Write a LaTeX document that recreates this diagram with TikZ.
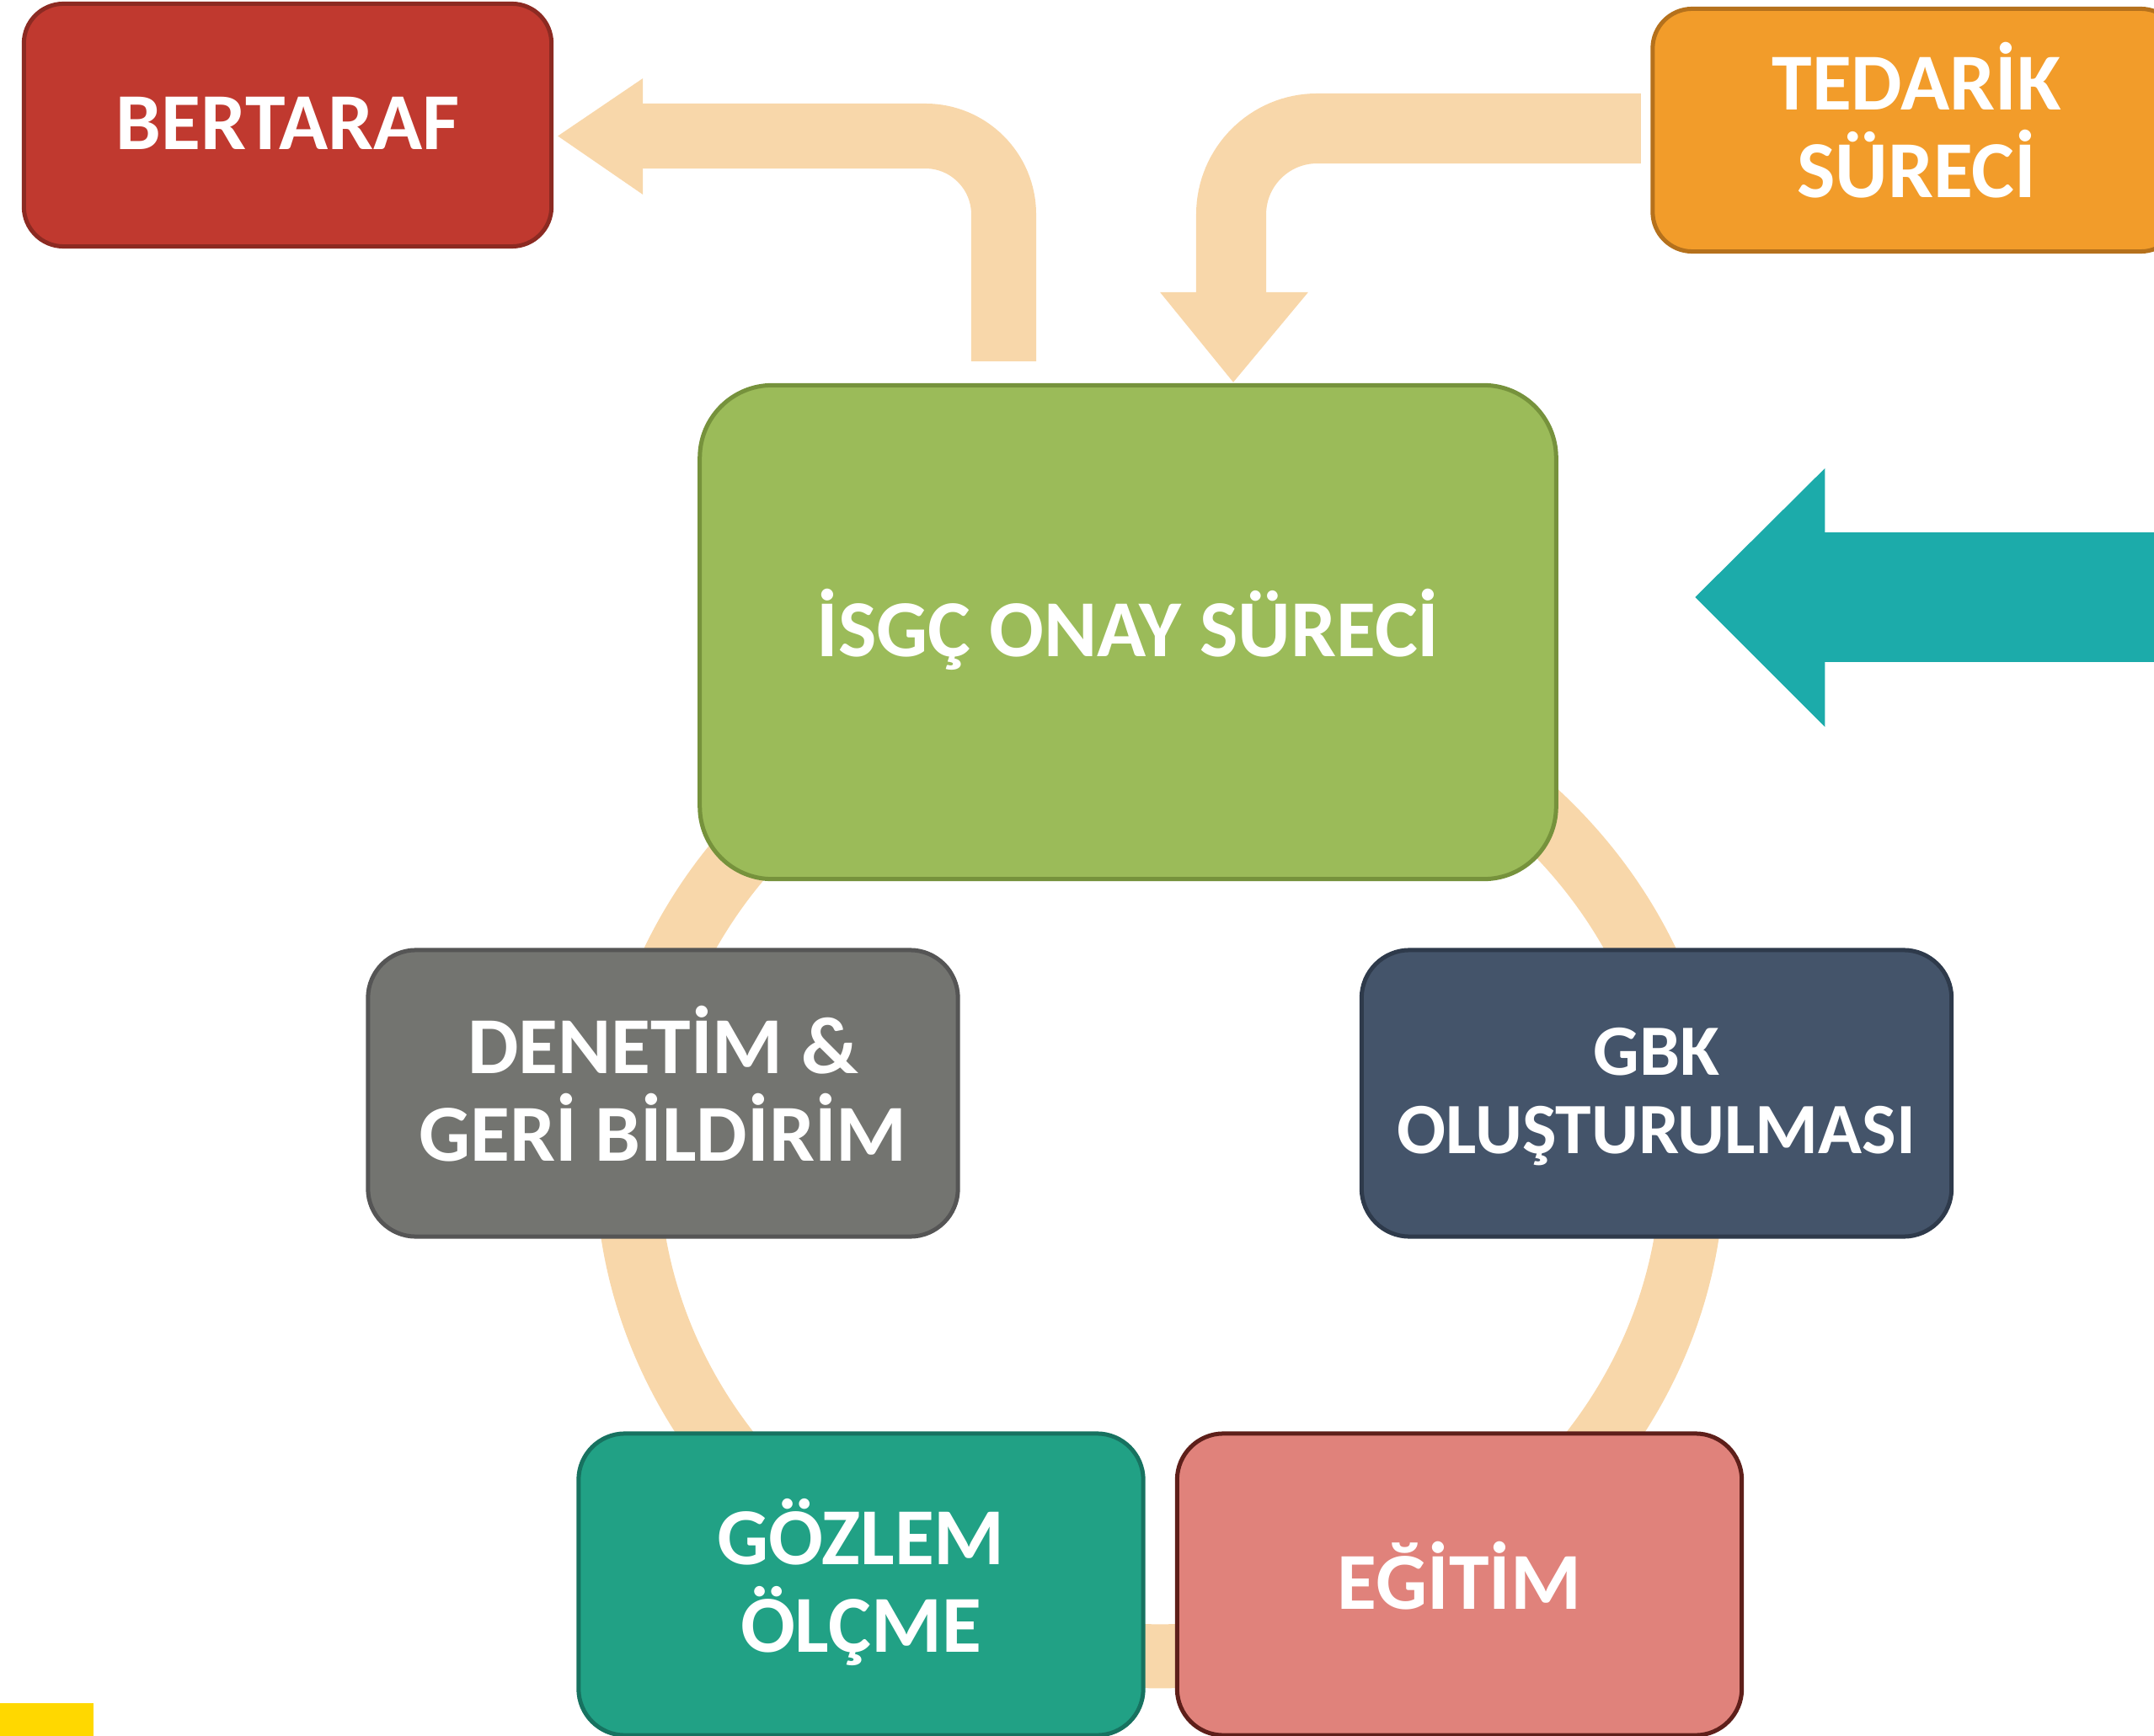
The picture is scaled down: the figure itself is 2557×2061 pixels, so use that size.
\documentclass[tikz,border=0pt]{standalone}
\usepackage{fontspec}
\setmainfont{Carlito}
\usetikzlibrary{positioning, calc}
\definecolor{bertred}{HTML}{C0392F}
\definecolor{bertredd}{HTML}{8C2A22}
\definecolor{tedorange}{HTML}{F29C2A}
\definecolor{tedoranged}{HTML}{B5711C}
\definecolor{onaygreen}{HTML}{9BBB59}
\definecolor{onaygreend}{HTML}{76923C}
\definecolor{dengray}{HTML}{737470}
\definecolor{dengrayd}{HTML}{555555}
\definecolor{gbkblue}{HTML}{44546A}
\definecolor{gbkblued}{HTML}{2E3A4B}
\definecolor{gozteal}{HTML}{21A185}
\definecolor{goztealed}{HTML}{177260}
\definecolor{egtpink}{HTML}{E0827B}
\definecolor{egtpinkd}{HTML}{5E1F1A}
\definecolor{cream}{HTML}{F8D7AA}
\definecolor{tealarr}{HTML}{1CABAA}
\definecolor{sari}{HTML}{FFD800}

\begin{document}
\begin{tikzpicture}[
  x=0.01cm, y=-0.01cm,
  box/.style={draw, line width=0.05cm, inner sep=0pt, align=flush center, text=white,
              text height=0.607cm, text depth=0.02cm,
              font=\bfseries\fontsize{27.3}{29.6}\selectfont},
  tworow/.style={text depth=1.084cm},
  upbox/.style={box, minimum width=6.26cm, minimum height=2.88cm, text width=6cm, rounded corners=0.47cm},
  midbox/.style={box, minimum width=7cm, minimum height=3.4cm, text width=6.8cm, rounded corners=0.57cm},
  lowbox/.style={box, minimum width=6.7cm, minimum height=3.58cm, text width=6.5cm, rounded corners=0.55cm},
  shaft/.style={draw=cream, line width=0.77cm, rounded corners=0.93cm},
  arr/.style={fill=cream}
]
\useasboundingbox (0,0) rectangle (2557,2061);
\clip (0,0) rectangle (2557,2061);
\draw[draw=cream, line width=0.76cm] (1377,1380) ellipse [x radius=6.32cm, y radius=5.86cm];
\node[upbox, fill=bertred, draw=bertredd] (bert) at (341.5,148.5) {BERTARAF};
\node[upbox, tworow, fill=tedorange, draw=tedoranged] (ted) at (2275,154.5) {TEDARİK\\SÜRECİ};
\node[box, fill=onaygreen, draw=onaygreend, minimum width=10.16cm, minimum height=5.86cm,
      text width=9.8cm, rounded corners=0.86cm] (onay) at (1339,750.5) {İSGÇ ONAY SÜRECİ};
\node[midbox, tworow, fill=dengray, draw=dengrayd] (den) at (787,1298) {DENETİM \&\\GERİ BİLDİRİM};
\node[midbox, fill=gbkblue, draw=gbkblued, font=\bfseries\fontsize{24.4}{26.4}\selectfont,
      text height=0.543cm, text depth=0.97cm] (gbk) at (1966.5,1298) {GBK\\OLUŞTURULMASI};
\node[lowbox, tworow, fill=gozteal, draw=goztealed] (goz) at (1022,1881) {GÖZLEM\\ÖLÇME};
\node[lowbox, fill=egtpink, draw=egtpinkd] (egt) at (1732.5,1881) {EĞİTİM};
\draw[shaft] ($(onay.north)+(-147.5,-26)$) |- ($(bert.east)+(106,13)$);
\fill[arr] ($(bert.east)+(106,-55.5)$) -- ($(bert.east)+(5,13)$) -- ($(bert.east)+(106,82.5)$) -- cycle;
\draw[shaft, line width=0.83cm, rounded corners=1.02cm] ($(ted.west)+(-11.5,-2)$) -| ($(onay.north)+(122.5,-108)$);
\fill[arr] ($(onay.north)+(38,-108)$) -- ($(onay.north)+(125,-1)$) -- ($(onay.north)+(214,-108)$) -- cycle;
\coordinate (rhs) at (2600,709);
\draw[draw=tealarr, line width=1.54cm] (rhs) -- ($(onay.east)+(316.5,-41.5)$);
\fill[tealarr] ($(onay.east)+(316.5,-194.5)$) -- ($(onay.east)+(162.5,-41.5)$) -- ($(onay.east)+(316.5,112.5)$) -- cycle;
\fill[sari] (0,2022) rectangle (111,2070);
\end{tikzpicture}
\end{document}
